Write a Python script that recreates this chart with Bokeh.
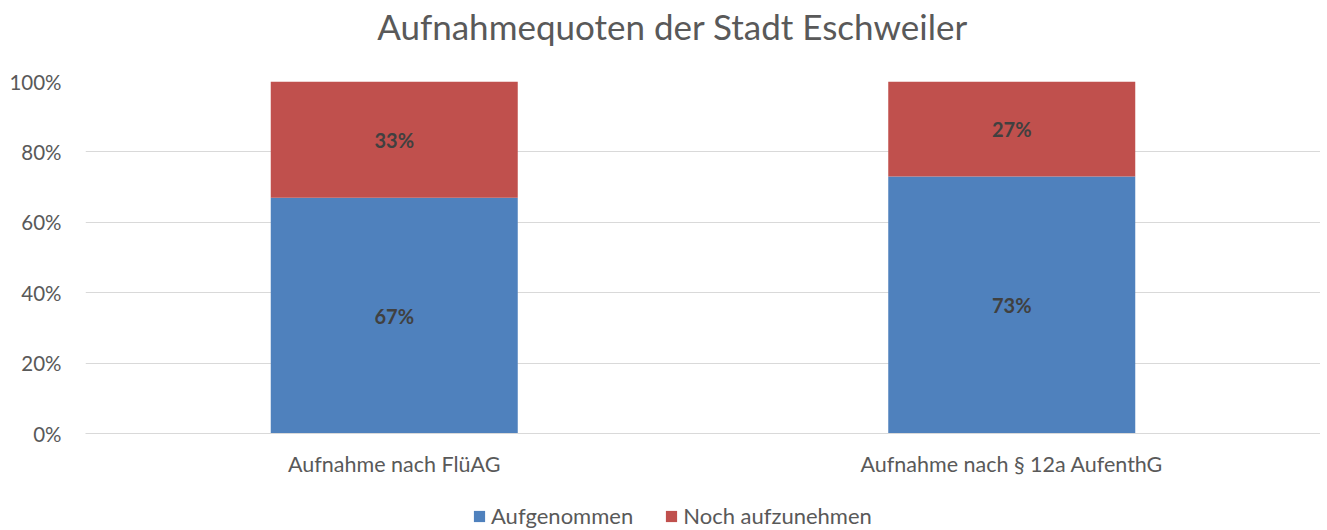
from bokeh.plotting import figure
from bokeh.layouts import column
from bokeh.models import ColumnDataSource, FactorRange, NumeralTickFormatter, Legend, LegendItem, FixedTicker, Label
from bokeh.core.properties import value
from bokeh.embed import file_html
from bokeh.resources import INLINE

categories = ["Aufnahme nach FlüAG", "Aufnahme nach § 12a AufenthG"]
aufgenommen = [0.67, 0.73]
noch_aufzunehmen = [0.33, 0.27]
series_names = ["Aufgenommen", "Noch aufzunehmen"]
colors = ["#4F81BD", "#C0504D"]
y_ticks = [0, 0.2, 0.4, 0.6, 0.8, 1.0]
title_text = "Aufnahmequoten der Stadt Eschweiler"

FONT = "Lato"

src = ColumnDataSource(dict(
    cat=categories,
    a=aufgenommen,
    n=noch_aufzunehmen,
    a_mid=[v / 2 for v in aufgenommen],
    n_mid=[a + n / 2 for a, n in zip(aufgenommen, noch_aufzunehmen)],
    a_lbl=[f"{round(v*100)}%" for v in aufgenommen],
    n_lbl=[f"{round(v*100)}%" for v in noch_aufzunehmen],
))

# title strip above the chart
tf = figure(width=1320, height=50, x_range=(0, 1), y_range=(0, 1), output_backend="svg",
            toolbar_location=None, min_border=0)
tf.axis.visible = False
tf.grid.visible = False
tf.outline_line_color = None
tf.add_layout(Label(x=587, y=0.5, x_units="screen", y_units="data", text=title_text,
                    text_align="center", text_baseline="middle", text_font=FONT,
                    text_font_size="35px", text_color="#595959"))

p = figure(x_range=FactorRange(*categories), y_range=(0, 1.0),
           frame_width=1235, frame_height=352, output_backend="svg", toolbar_location=None,
           min_border_left=85, min_border_right=0, min_border_top=31, min_border_bottom=55)

r = p.vbar_stack(["a", "n"], x="cat", width=0.4, source=src, color=colors, line_color=None)

p.text(x="cat", y="a_mid", text="a_lbl", source=src, text_align="center", text_baseline="middle",
       text_font=value(FONT), text_font_style="bold", text_font_size="20px", text_color="#404040")
p.text(x="cat", y="n_mid", text="n_lbl", source=src, text_align="center", text_baseline="middle",
       text_font=value(FONT), text_font_style="bold", text_font_size="20px", text_color="#404040")

p.yaxis.ticker = FixedTicker(ticks=y_ticks)
p.yaxis.formatter = NumeralTickFormatter(format="0%")
p.yaxis.axis_line_color = None
p.yaxis.major_tick_line_color = None
p.yaxis.minor_tick_line_color = None
p.yaxis.major_label_text_font = FONT
p.yaxis.major_label_text_font_size = "20.5px"
p.yaxis.major_label_text_color = "#595959"
p.yaxis.major_label_standoff = 18

p.xaxis.axis_line_color = "#D9D9D9"
p.xaxis.major_tick_line_color = None
p.xaxis.minor_tick_line_color = None
p.xaxis.major_tick_out = 0
p.xaxis.major_label_text_font = FONT
p.xaxis.major_label_text_font_size = "21.5px"
p.xaxis.major_label_text_color = "#595959"
p.xaxis.major_label_standoff = 17

p.xgrid.grid_line_color = None
p.ygrid.grid_line_color = "#D9D9D9"
p.ygrid.ticker = FixedTicker(ticks=y_ticks)
p.outline_line_color = None
p.x_range.range_padding = 0.0
p.x_range.factor_padding = 0.0

# legend strip below the chart
lf = figure(width=1320, height=42, x_range=(0, 1), y_range=(0, 1), output_backend="svg",
            toolbar_location=None, min_border=0)
lf.axis.visible = False
lf.grid.visible = False
lf.outline_line_color = None
dummy = [lf.vbar(x=[5], top=[5], bottom=[4], width=0.1, color=c, line_color=None) for c in colors]
legend = Legend(items=[LegendItem(label=series_names[i], renderers=[dummy[i]]) for i in range(2)],
                orientation="horizontal", location=(387, 1),
                label_text_font=FONT, label_text_font_size="22px", label_text_color="#595959",
                label_height=20, glyph_width=14, glyph_height=14, label_standoff=5, spacing=31,
                padding=0, margin=0, border_line_color=None, background_fill_alpha=0)
lf.add_layout(legend, "center")

layout = column(tf, p, lf, spacing=0)
open("out.html", "w").write(file_html(layout, INLINE))
